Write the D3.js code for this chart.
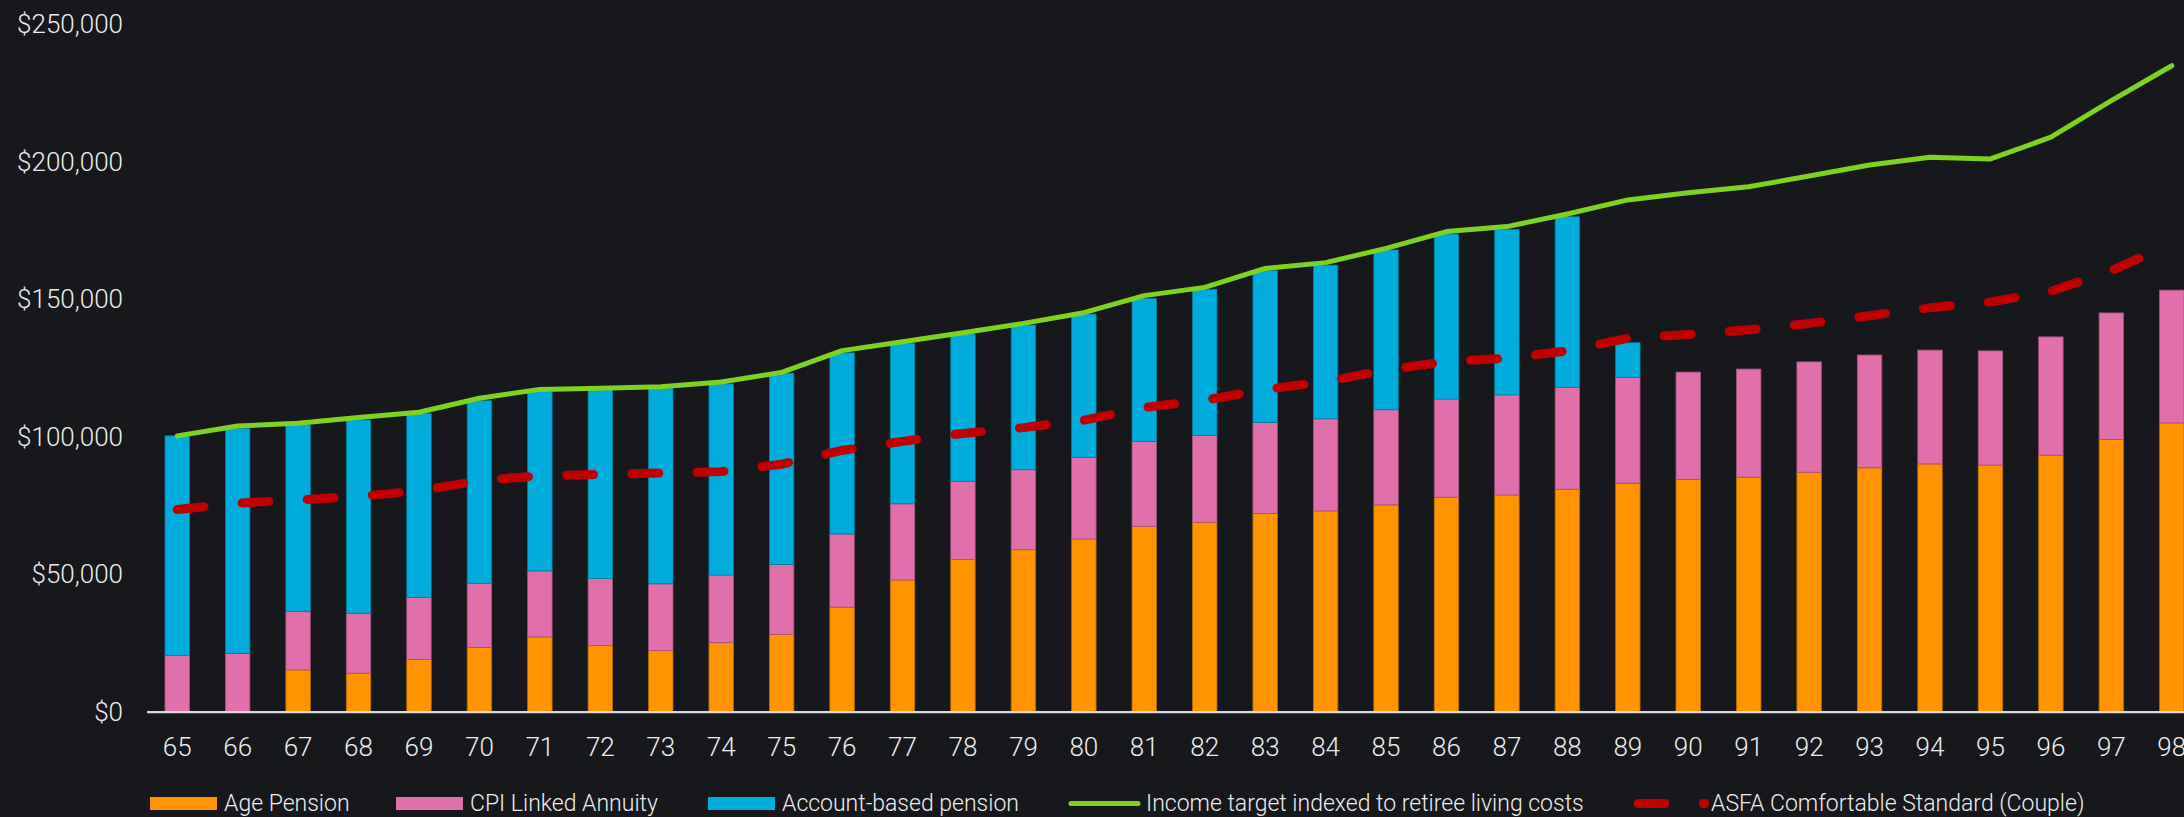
<!DOCTYPE html>
<html>
<head>
<meta charset="utf-8">
<script src="https://cdn.jsdelivr.net/npm/d3@7"></script>
<style>
    html, body { margin: 0; padding: 0; background: #17181c; overflow: hidden; }
    svg { display: block; }
    text { font-family: Roboto, "Liberation Sans", Arial, sans-serif; font-weight: 300; }
</style>
</head>
<body>
<div id="chart"></div>
<script>
// # Categories (age of retiree).
const ages = ['65','66','67','68','69','70','71','72','73','74','75','76','77','78','79','80','81',
              '82','83','84','85','86','87','88','89','90','91','92','93','94','95','96','97','98']

// # Stacked income sources ($ per year).
const agePension = [0, 0, 15200, 14000, 19000, 23400, 27200, 24100, 22200, 25100, 28100, 38000,
                    47900, 55300, 58900, 62800, 67400, 68900, 72100, 73000, 75200, 78000, 78800,
                    80900, 83100, 84500, 85300, 87100, 88700, 90100, 89700, 93300, 99000, 105000]
const cpiAnnuity = [20400, 21200, 21200, 21800, 22500, 23300, 24000, 24300, 24300, 24600, 25400,
                    26600, 27700, 28500, 29100, 29600, 30900, 31600, 33100, 33500, 34600, 35700,
                    36400, 37100, 38400, 39000, 39300, 40100, 41000, 41400, 41500, 43000, 46000, 48300]
const accountBased = [79900, 81800, 67900, 70300, 67000, 66400, 65200, 68600, 71100, 69500, 69600,
                      65900, 58400, 53600, 52600, 52200, 52000, 53100, 55200, 55900, 58100, 60000,
                      60200, 62000, 12700, 0, 0, 0, 0, 0, 0, 0, 0, 0]

// # Lines ($ per year).
const incomeTarget = [100300, 103900, 104900, 107000, 108900, 114000, 117200, 117600, 118200, 119900,
                      123400, 131300, 134500, 137800, 141200, 145100, 151300, 154300, 161200, 163300,
                      168500, 174600, 176400, 181000, 186100, 188700, 190900, 194800, 198800, 201600,
                      201000, 208900, 222200, 234900]
const asfaComfortable = [73500, 75800, 77000, 78300, 80300, 84000, 85800, 86300, 86800, 87300, 90000,
                         95000, 98300, 101200, 103300, 106000, 110600, 113300, 117200, 120000, 124300,
                         127300, 128500, 131200, 135800, 137200, 138900, 141200, 144000, 146900, 149000,
                         152900, 160400, 170100]

// # Axis ticks.
const yTicks = [0, 50000, 100000, 150000, 200000, 250000]

// # Series names.
const seriesKeys = ['agePension', 'cpiAnnuity', 'accountBased']
const seriesLabels = ['Age Pension', 'CPI Linked Annuity', 'Account-based pension']
const lineLabels = ['Income target indexed to retiree living costs', 'ASFA Comfortable Standard (Couple)']

// # Styles.
const width = 2184
const height = 817
const bgColor = '#17181c'
const seriesColors = ['#ff9300', '#e16fab', '#00acdc']
const targetColor = '#7ed321'
const asfaColor = '#c00000'
const textColor = '#ececec'
const asfaDash = '27,38.2'

// # Plot area (the band range runs a little past the right edge, as in the source).
const plotLeft = 147
const plotRight = 2202
const plotTop = 24.2
const plotBottom = 711.7

const svg = d3.select('#chart')
    .append('svg')
    .attr('width', width)
    .attr('height', height)
    .style('background', bgColor)

const x = d3.scaleBand()
    .domain(ages)
    .range([plotLeft, plotRight])
    .paddingInner(0.595)
    .paddingOuter(0.2975)

const y = d3.scaleLinear()
    .domain([0, 250000])
    .range([plotBottom, plotTop])

// # Build table for the stack.
const table = ages.map((age, i) => ({
    age: age,
    agePension: agePension[i],
    cpiAnnuity: cpiAnnuity[i],
    accountBased: accountBased[i]
}))

const stacked = d3.stack().keys(seriesKeys)(table)

// # Bars.
svg.append('g')
    .selectAll('g')
    .data(stacked)
    .enter().append('g')
    .attr('fill', (d, i) => seriesColors[i])
    .attr('stroke', (d, i) => d3.color(seriesColors[i]).darker(0.9))
    .attr('stroke-width', 0.8)
    .selectAll('rect')
    .data(d => d.filter(s => s[1] - s[0] > 0))
    .enter().append('rect')
    .attr('x', d => x(d.data.age))
    .attr('width', x.bandwidth())
    .attr('y', d => y(d[1]))
    .attr('height', d => y(d[0]) - y(d[1]))

// # Y axis labels (no axis line, no ticks).
const yAxis = svg.append('g')
    .attr('transform', 'translate(123,0)')
    .call(d3.axisLeft(y).tickValues(yTicks).tickSize(0).tickPadding(0)
        .tickFormat(d => '$' + d3.format(',')(d)))
yAxis.select('.domain').remove()
yAxis.selectAll('text')
    .attr('fill', textColor)
    .attr('font-size', 26)
    .attr('font-family', null)

// # X axis: baseline + age labels.
const xAxis = svg.append('g')
    .attr('transform', 'translate(0,' + plotBottom + ')')
    .call(d3.axisBottom(x).tickSize(0).tickPadding(0))
xAxis.select('.domain').remove()
xAxis.selectAll('text')
    .attr('fill', textColor)
    .attr('font-size', 26)
    .attr('dy', null)
    .attr('y', 44)
svg.selectAll('.tick').attr('font-family', null)

svg.append('line')
    .attr('x1', plotLeft)
    .attr('x2', width)
    .attr('y1', plotBottom + 0.5)
    .attr('y2', plotBottom + 0.5)
    .attr('stroke', '#d9d9d9')
    .attr('stroke-width', 2.2)

// # Lines.
const lineGen = d3.line()
    .x((d, i) => x(ages[i]) + x.bandwidth() / 2)
    .y(d => y(d))

svg.append('path')
    .datum(incomeTarget)
    .attr('d', lineGen)
    .attr('fill', 'none')
    .attr('stroke', targetColor)
    .attr('stroke-width', 5)
    .attr('stroke-linejoin', 'round')
    .attr('stroke-linecap', 'round')

svg.append('path')
    .datum(asfaComfortable)
    .attr('d', lineGen)
    .attr('fill', 'none')
    .attr('stroke', asfaColor)
    .attr('stroke-width', 9)
    .attr('stroke-linecap', 'round')
    .attr('stroke-linejoin', 'round')
    .attr('stroke-dasharray', asfaDash)

// # Legend.
const legendY = 803.5
const legendX = [150, 396, 708, 1071, 1638]
const legendTextOffset = [74, 74, 74, 75, 73]
const legend = svg.append('g')

seriesLabels.forEach((label, i) => {
    legend.append('rect')
        .attr('x', legendX[i])
        .attr('y', legendY - 6.5)
        .attr('width', 67)
        .attr('height', 13)
        .attr('fill', seriesColors[i])
})
legend.append('line')
    .attr('x1', legendX[3]).attr('x2', legendX[3] + 67)
    .attr('y1', legendY).attr('y2', legendY)
    .attr('stroke', targetColor)
    .attr('stroke-width', 5)
    .attr('stroke-linecap', 'round')
legend.append('line')
    .attr('x1', legendX[4]).attr('x2', legendX[4] + 67)
    .attr('y1', legendY).attr('y2', legendY)
    .attr('stroke', asfaColor)
    .attr('stroke-width', 9)
    .attr('stroke-linecap', 'round')
    .attr('stroke-dasharray', asfaDash)

seriesLabels.concat(lineLabels).forEach((label, i) => {
    legend.append('text')
        .attr('x', legendX[i] + legendTextOffset[i])
        .attr('y', legendY + 7.5)
        .attr('fill', textColor)
        .attr('font-size', 23)
        .text(label)
})
</script>
</body>
</html>
